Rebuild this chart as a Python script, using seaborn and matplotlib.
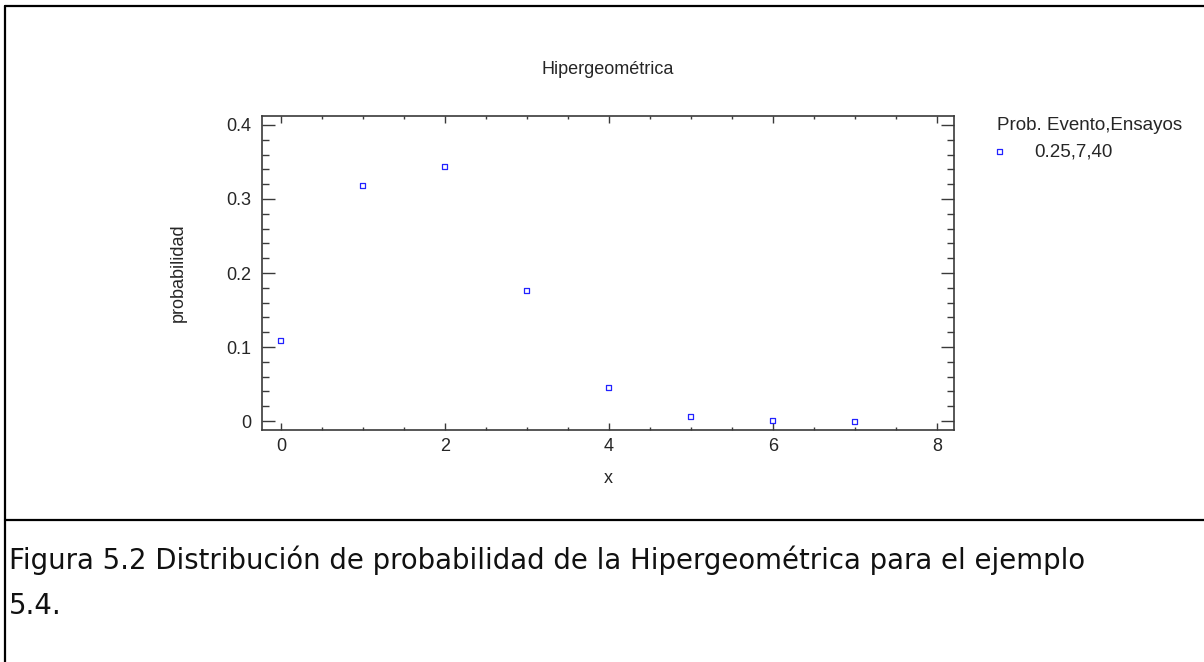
import numpy as np
import pandas as pd
import matplotlib
matplotlib.use("Agg")
import matplotlib.pyplot as plt
import seaborn as sns
from matplotlib.lines import Line2D
from matplotlib.ticker import MultipleLocator, FuncFormatter

# Data (hypergeometric, p=0.25, n=7, N=40)
x_vals = [0, 1, 2, 3, 4, 5, 6, 7]
prob_vals = [0.109, 0.3185, 0.344, 0.1764, 0.0457, 0.0059, 0.0003, 0.0]
series_label = "0.25,7,40"
legend_title = "Prob. Evento,Ensayos"
chart_title = "Hipergeométrica"
caption_line1 = "Figura 5.2 Distribución de probabilidad de la Hipergeométrica para el ejemplo"
caption_line2 = "5.4."

df = pd.DataFrame({"x": x_vals, "probabilidad": prob_vals})

sns.set_style("white")
plt.rcParams["font.family"] = ["Liberation Sans", "DejaVu Sans"]

W, H = 1204, 662
fig = plt.figure(figsize=(W / 100, H / 100), dpi=100)
fig.patch.set_facecolor("white")

# axes box in pixels: left 262, right 954, top 116, bottom 430
ax = fig.add_axes([262 / W, 1 - 430 / H, (954 - 262) / W, (430 - 116) / H])

blue = "#2222ff"
sns.scatterplot(
    data=df, x="x", y="probabilidad", ax=ax,
    marker="s", s=14, facecolor="none", edgecolor=blue, linewidth=0.9,
    label=series_label,
)

ax.set_xlim(-0.23, 8.21)
ax.set_ylim(-0.012, 0.412)
ax.xaxis.set_major_locator(MultipleLocator(2))
ax.xaxis.set_minor_locator(MultipleLocator(0.5))
ax.yaxis.set_major_locator(MultipleLocator(0.1))
ax.yaxis.set_minor_locator(MultipleLocator(0.02))
ax.yaxis.set_major_formatter(FuncFormatter(lambda v, p: f"{v:g}"))
ax.xaxis.set_major_formatter(FuncFormatter(lambda v, p: f"{v:g}"))

spine_col = "#3a3a3a"
for s in ax.spines.values():
    s.set_visible(True)
    s.set_color(spine_col)
    s.set_linewidth(1.2)

ax.tick_params(axis="x", which="both", direction="in", top=True, bottom=True,
               color=spine_col, width=1.0, labelsize=13, pad=6)
ax.tick_params(axis="x", which="major", length=4.8)
ax.tick_params(axis="x", which="minor", length=2.4)
ax.tick_params(axis="y", which="both", direction="in", left=True, right=True,
               color=spine_col, width=1.0, labelsize=13, pad=8)
ax.tick_params(axis="y", which="major", length=9.1)
ax.tick_params(axis="y", which="minor", length=4.8)

ax.set_xlabel("x", fontsize=13)
ax.set_ylabel("probabilidad", fontsize=13)
ax.xaxis.set_label_coords(0.5, -0.128)
ax.yaxis.set_label_coords(-0.108, 0.5)
ax.set_title(chart_title, fontsize=13, pad=30)

ax.legend(
    title=legend_title, loc="upper left",
    bbox_to_anchor=(997 / W, 1 - 117 / H), bbox_transform=fig.transFigure,
    frameon=False, fontsize=13.5, title_fontsize=13.5, alignment="left",
    handlelength=0.3, handletextpad=1.7, borderpad=0, borderaxespad=0,
    labelspacing=0.5,
)

# outer frame lines like the document table
lw = 1.6
fig.add_artist(Line2D([5 / W, 5 / W], [0, 1 - 6 / H], color="black", lw=lw))
fig.add_artist(Line2D([5 / W, 1], [1 - 6 / H, 1 - 6 / H], color="black", lw=lw))
sep_y = 1 - 520 / H
fig.add_artist(Line2D([5 / W, 1], [sep_y, sep_y], color="black", lw=lw))

fig.text(9 / W, 1 - 560 / H, caption_line1, fontsize=19.8, family="DejaVu Sans",
         ha="left", va="center", color="#111111")
fig.text(9 / W, 1 - 606 / H, caption_line2, fontsize=19.8, family="DejaVu Sans",
         ha="left", va="center", color="#111111")

fig.savefig("out.png", dpi=100)
